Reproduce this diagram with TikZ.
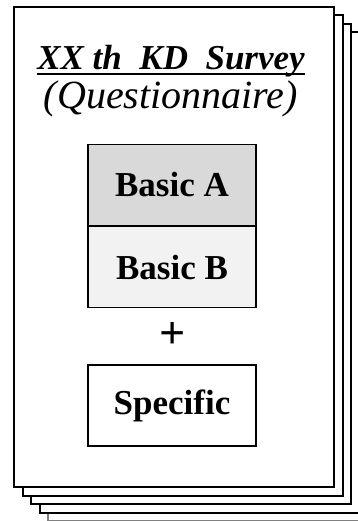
\documentclass[tikz,border=0pt]{standalone}
\usepackage{fontspec}
\setmainfont{Liberation Serif}
\usepackage{tikz}

\begin{document}
\begin{tikzpicture}[x=1pt,y=-1pt,
    page/.style={draw=black,line width=2pt,fill=white},
    partbox/.style={draw=black,line width=1.2pt,minimum width=168pt,minimum height=81pt,
        inner sep=0pt,font=\fontsize{35}{40}\selectfont\bfseries},
]

    \useasboundingbox (0,0) rectangle (358,521);

    % stack of sheets behind the front one
    \filldraw[page,draw=gray,line width=1.2pt] (48,41) rectangle (368,521);
    \filldraw[page] (39.5,32.5) rectangle (359.5,512.5);
    \filldraw[page] (31,24) rectangle (351,504);
    \filldraw[page] (22.5,15.5) rectangle (342.5,495.5);
    \filldraw[page] (14,7) rectangle (334,487);

    % title
    \node[inner sep=0pt,anchor=base,font=\fontsize{35}{40}\selectfont\bfseries\itshape]
        (title) at (171,70) {XX th~~KD~~Survey};
    \draw[line width=1.5pt] ([yshift=-4pt]title.base west) -- ([yshift=-4pt]title.base east);
    \node[inner sep=0pt,anchor=base,font=\fontsize{40}{45}\selectfont\itshape]
        (subtitle) at (171,109) {(Questionnaire)};

    % parts of the questionnaire
    \node[partbox,fill=black!15] (basicA) at (172,185) {Basic A};
    \node[partbox,fill=black!5,anchor=north] (basicB) at (basicA.south) {Basic B};
    \node[inner sep=0pt,font=\fontsize{46}{50}\selectfont\bfseries] (plus) at (173,336) {+};
    \node[partbox] (specific) at (172,405.5) {Specific};

\end{tikzpicture}
\end{document}
